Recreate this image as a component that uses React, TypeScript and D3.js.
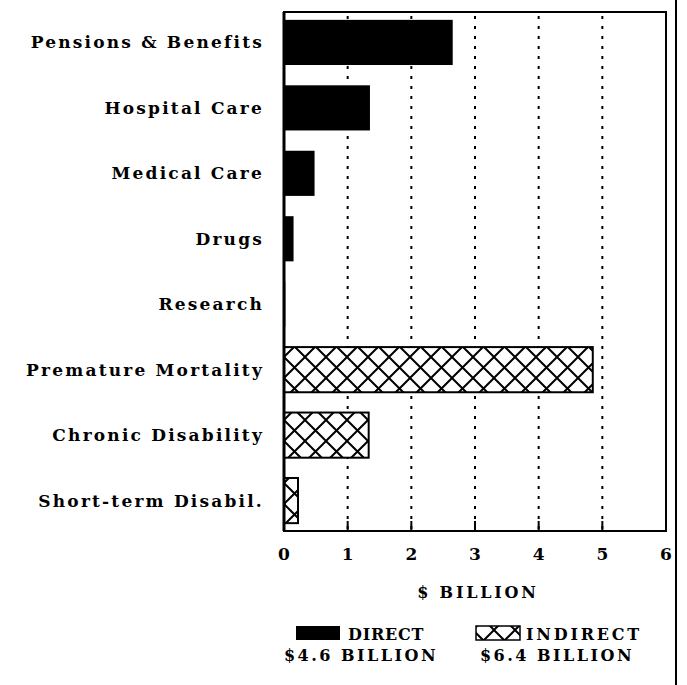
import React from "react";
import * as d3 from "d3";

const categories = [
  "Pensions & Benefits",
  "Hospital Care",
  "Medical Care",
  "Drugs",
  "Research",
  "Premature Mortality",
  "Chronic Disability",
  "Short-term Disabil.",
];
const costValues = [2.65, 1.35, 0.48, 0.15, 0.02, 4.85, 1.33, 0.22];
const costTypes = ["direct", "direct", "direct", "direct", "direct", "indirect", "indirect", "indirect"];
const xTicks = [0, 1, 2, 3, 4, 5, 6];
const xAxisTitle = "$ BILLION";
const legendLabels = ["DIRECT", "INDIRECT"];
const legendTotals = ["$4.6 BILLION", "$6.4 BILLION"];

const W = 687;
const H = 685;
const FONT = "'DejaVu Serif', serif";

export default function App() {
  const left = 284;
  const right = 666;
  const top = 12;
  const bottom = 531;
  const x = d3.scaleLinear().domain([0, 6]).range([left, right]);
  const y = d3
    .scaleBand<string>()
    .domain(categories)
    .range([top, bottom])
    .paddingInner(0.31)
    .paddingOuter(0.12);

  const data = categories.map((c, i) => ({ c, v: costValues[i], t: costTypes[i] }));

  return (
    <svg
      width={W}
      height={H}
      style={{ position: "absolute", left: 0, top: 0, background: "#fff" }}
      fontFamily={FONT}
    >
      <defs>
        <pattern id="hatch" patternUnits="userSpaceOnUse" width={21} height={21} x={left} y={0}>
          <rect width={21} height={21} fill="#fff" />
          <path d="M0,0 L21,21 M21,0 L0,21 M-2,19 L2,23 M19,-2 L23,2 M19,23 L23,19 M-2,2 L2,-2" stroke="#000" strokeWidth={2} />
        </pattern>
      </defs>
      <rect width={W} height={H} fill="#fff" />

      {/* gridlines */}
      {xTicks.slice(1, -1).map((t) => (
        <g key={"g" + t}>
          <line x1={x(t)} x2={x(t)} y1={top + 4} y2={bottom} stroke="#000" strokeWidth={2} strokeDasharray="3,7" />
          <line x1={x(t)} x2={x(t)} y1={bottom - 10} y2={bottom} stroke="#000" strokeWidth={2} />
        </g>
      ))}

      {/* bars */}
      {data.map((d) => (
        <rect
          key={d.c}
          x={x(0)}
          y={y(d.c)}
          width={Math.max(x(d.v) - x(0), 1)}
          height={y.bandwidth()}
          fill={d.t === "direct" ? "#000" : "url(#hatch)"}
          stroke="#000"
          strokeWidth={d.t === "direct" ? 0 : 2}
        />
      ))}

      {/* frame */}
      <rect x={left} y={top} width={right - left} height={bottom - top} fill="none" stroke="#000" strokeWidth={2} />
      <line x1={left} x2={left} y1={top} y2={bottom} stroke="#000" strokeWidth={3} />

      {/* scan edge line */}
      <line x1={676} x2={676} y1={0} y2={H} stroke="#000" strokeWidth={2} />

      {/* category labels */}
      {data.map((d) => (
        <text
          key={"l" + d.c}
          x={264}
          y={(y(d.c) as number) + y.bandwidth() / 2}
          dy="0.35em"
          textAnchor="end"
          fontSize={17}
          fontWeight="bold"
          letterSpacing={2.2}
        >
          {d.c}
        </text>
      ))}

      {/* tick labels */}
      {xTicks.map((t) => (
        <text key={"t" + t} x={x(t)} y={554} dy="0.35em" textAnchor="middle" fontSize={17} fontWeight="bold">
          {t}
        </text>
      ))}

      <text x={478} y={592} dy="0.35em" textAnchor="middle" fontSize={16} fontWeight="bold" letterSpacing={2.8}>
        {xAxisTitle}
      </text>

      {/* legend */}
      <rect x={296} y={626} width={44} height={14} fill="#000" />
      <text x={348} y={640} fontSize={16} fontWeight="bold" letterSpacing={0.8}>
        {legendLabels[0]}
      </text>
      <text x={361} y={661} textAnchor="middle" fontSize={16} fontWeight="bold" letterSpacing={2.5}>
        {legendTotals[0]}
      </text>

      <rect x={476} y={626} width={44} height={14} fill="url(#hatch)" stroke="#000" strokeWidth={1.5} />
      <text x={526} y={640} fontSize={16} fontWeight="bold" letterSpacing={2.8}>
        {legendLabels[1]}
      </text>
      <text x={557} y={661} textAnchor="middle" fontSize={16} fontWeight="bold" letterSpacing={2.5}>
        {legendTotals[1]}
      </text>
    </svg>
  );
}
